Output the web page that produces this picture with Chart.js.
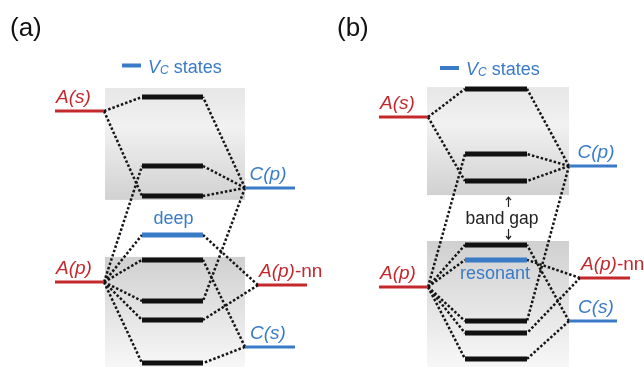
<!DOCTYPE html>
<html>
<head>
<meta charset="utf-8">
<script src="https://cdn.jsdelivr.net/npm/chart.js@4.4.1/dist/chart.umd.min.js"></script>
<style>
  html, body { margin: 0; padding: 0; background: #fff; overflow: hidden; }
  #wrap { position: relative; width: 644px; height: 367px; }
  canvas { position: absolute; top: 0; }
  #chartA { left: 0; }
  #chartB { left: 322px; }
</style>
</head>
<body>
<div id="wrap">
  <canvas id="chartB" width="322" height="367"></canvas>
  <canvas id="chartA" width="340" height="367"></canvas>
</div>
<script>
// atomic levels: A on the left, C on the right, A(p) of the nearest neighbour far right
const atomLabels = ["A(s)", "A(p)", "C(p)", "C(s)", "A(p)-nn"]
const atomSide = ["left", "left", "right", "right", "nn"]

// energies in arbitrary units (0 = bottom of the drawing)
const atomEnergyA = [8.53, 2.83, 5.97, 0.67, 2.73]
const atomEnergyB = [8.33, 2.67, 6.70, 1.53, 2.97]

// compound states, top to bottom; "vc" is the vacancy-derived level
const stateEnergyA = [9.0, 6.7, 5.7, 4.4, 3.57, 2.2, 1.57, 0.13]
const stateKindA = ["band", "band", "band", "vc", "band", "band", "band", "band"]
const stateEnergyB = [9.27, 7.1, 6.2, 4.07, 3.57, 1.53, 1.13, 0.27]
const stateKindB = ["band", "band", "band", "band", "vc", "band", "band", "band"]

// [atomic level, state] pairs joined by dotted lines
const linksA = [[0, 0], [0, 2], [2, 0], [2, 1], [2, 2], [2, 5], [1, 1], [1, 3], [1, 4], [1, 5], [1, 6], [1, 7], [4, 3], [4, 6], [3, 4], [3, 7]]
const linksB = [[0, 0], [0, 2], [2, 0], [2, 1], [2, 2], [2, 5], [1, 1], [1, 3], [1, 4], [1, 5], [1, 6], [1, 7], [4, 4], [4, 6], [3, 3], [3, 7]]

// shaded bands [bottom, top]: conduction band, valence band
const bandsA = [[5.57, 9.3], [0, 3.67]]
const bandsB = [[5.73, 9.33], [0, 4.2]]

const vcLabelA = "deep"
const vcLabelB = "resonant"

const red = "#c3282d"
const blue = "#3a7bc8"
const ink = "#111111"
const FONT = '"Liberation Sans", Arial, Helvetica, sans-serif'
const PX_PER_UNIT = 30

// horizontal layout of the columns, in canvas pixels
const layoutA = { left: [55, 104], mid: [142, 203], right: [245, 295], nn: [258, 307], box: [105, 245], title: 10, legend: [122, 72.5], cShift: -2 }
const layoutB = { left: [57, 106], mid: [143, 205], right: [247, 295], nn: [258, 308], box: [105, 247], title: 15, legend: [118, 75], cShift: 3 }

function atomColor(label) {
	return label.startsWith("C") ? blue : red
}

const bandPlugin = {
	id: "bandShading",
	beforeDatasetsDraw(chart, args, opts) {
		const { ctx, scales: { x, y } } = chart
		const x0 = x.getPixelForValue(opts.box[0])
		const x1 = x.getPixelForValue(opts.box[1])
		opts.bands.forEach((b, i) => {
			const top = y.getPixelForValue(b[1])
			const bottom = y.getPixelForValue(b[0])
			const g = ctx.createLinearGradient(0, top, 0, bottom)
			if (i === 0) {
				g.addColorStop(0, "#e7e7e7")
				g.addColorStop(0.35, "#f1f1f1")
				g.addColorStop(1, "#d1d1d1")
			} else {
				g.addColorStop(0, "#d0d0d0")
				g.addColorStop(1, "#f7f7f7")
			}
			ctx.save()
			ctx.fillStyle = g
			ctx.fillRect(x0, top, x1 - x0, bottom - top)
			ctx.restore()
		})
	},
}

const textPlugin = {
	id: "diagramText",
	afterDatasetsDraw(chart, args, opts) {
		const { ctx, scales: { x, y } } = chart
		const lay = opts.layout
		ctx.save()
		ctx.textBaseline = "alphabetic"

		// panel tag
		ctx.fillStyle = "#111"
		ctx.font = "26px " + FONT
		ctx.textAlign = "left"
		ctx.fillText(opts.title, lay.title, 36)

		// legend: blue dash + Vc states
		const [lx, ly] = lay.legend
		ctx.fillStyle = blue
		ctx.fillRect(lx, ly - 9, 19, 4)
		let tx = lx + 26
		ctx.font = "italic 18px " + FONT
		ctx.fillText("V", tx, ly)
		tx += ctx.measureText("V").width
		ctx.font = "italic 12px " + FONT
		ctx.fillText("C", tx, ly + 1)
		tx += ctx.measureText("C").width
		ctx.font = "18px " + FONT
		ctx.fillText(" states", tx, ly)

		// atomic level labels
		atomLabels.forEach((label, i) => {
			const py = y.getPixelForValue(opts.atomE[i]) - 8
			const side = atomSide[i]
			ctx.fillStyle = atomColor(label)
			ctx.font = "italic 19px " + FONT
			if (side === "left") {
				ctx.textAlign = "left"
				ctx.fillText(label, x.getPixelForValue(lay.left[0]) + 1, py)
			} else if (side === "right") {
				ctx.textAlign = "center"
				ctx.fillText(label, x.getPixelForValue((lay.right[0] + lay.right[1]) / 2) + lay.cShift, py)
			} else {
				const [main, tail] = label.split("-")
				ctx.textAlign = "left"
				const sx = x.getPixelForValue(lay.nn[0]) + 1
				ctx.fillText(main, sx, py)
				const w = ctx.measureText(main).width
				ctx.font = "19px " + FONT
				ctx.fillText("-" + tail, sx + w, py)
			}
		})

		// vacancy level label
		const vcIdx = opts.stateKind.indexOf("vc")
		const vcPix = y.getPixelForValue(opts.stateE[vcIdx])
		const midX = x.getPixelForValue((lay.mid[0] + lay.mid[1]) / 2)
		ctx.fillStyle = blue
		ctx.textAlign = "center"
		ctx.font = "18px " + FONT
		if (opts.vcBelow) {
			ctx.fillText(opts.vcLabel, midX - 1, vcPix + 19)
		} else {
			ctx.fillText(opts.vcLabel, midX + 1, vcPix - 11)
		}

		// band gap marker between the shaded bands
		if (opts.showGap) {
			const gTop = y.getPixelForValue(opts.bands[0][0])
			const gBot = y.getPixelForValue(opts.bands[1][1])
			const gMid = (gTop + gBot) / 2
			ctx.fillStyle = "#222"
			ctx.font = "17.5px " + FONT
			ctx.fillText("band gap", midX + 6, gMid + 6)
			const ax = midX + 12.5
			ctx.strokeStyle = "#222"
			ctx.lineWidth = 1.2
			ctx.beginPath()
			ctx.moveTo(ax, gTop + 2)
			ctx.lineTo(ax, gTop + 12)
			ctx.moveTo(ax - 2.5, gTop + 5)
			ctx.lineTo(ax, gTop + 2)
			ctx.lineTo(ax + 2.5, gTop + 5)
			ctx.moveTo(ax, gBot - 12)
			ctx.lineTo(ax, gBot - 2)
			ctx.moveTo(ax - 2.5, gBot - 5)
			ctx.lineTo(ax, gBot - 2)
			ctx.lineTo(ax + 2.5, gBot - 5)
			ctx.stroke()
		}
		ctx.restore()
	},
}

function buildChart(id, p) {
	const canvas = document.getElementById(id)
	const lay = p.layout
	const datasets = []

	// compound states
	p.stateE.forEach((e, i) => {
		datasets.push({
			data: [{ x: lay.mid[0], y: e }, { x: lay.mid[1], y: e }],
			borderColor: p.stateKind[i] === "vc" ? blue : ink,
			borderWidth: 5,
			order: 0,
		})
	})

	// atomic levels
	p.atomE.forEach((e, i) => {
		const span = lay[atomSide[i]]
		datasets.push({
			data: [{ x: span[0], y: e }, { x: span[1], y: e }],
			borderColor: atomColor(atomLabels[i]),
			borderWidth: 3,
			order: 0,
		})
	})

	// dotted correlation lines
	p.links.forEach(([a, s]) => {
		const side = atomSide[a]
		const ax = side === "left" ? lay.left[1] : lay[side][0]
		const sx = side === "left" ? lay.mid[0] : lay.mid[1]
		datasets.push({
			data: [{ x: ax, y: p.atomE[a] }, { x: sx, y: p.stateE[s] }],
			borderColor: "#151515",
			borderWidth: 2.5,
			borderDash: [2.5, 2],
			order: 1,
		})
	})

	return new Chart(canvas.getContext("2d"), {
		type: "scatter",
		data: { datasets },
		options: {
			responsive: false,
			animation: false,
			devicePixelRatio: 1,
			layout: { padding: 0 },
			showLine: true,
			elements: {
				point: { radius: 0, hoverRadius: 0 },
				line: { tension: 0, borderCapStyle: "butt", fill: false },
			},
			scales: {
				x: { type: "linear", min: 0, max: canvas.width, display: false },
				y: { type: "linear", min: 0, max: canvas.height / PX_PER_UNIT, display: false },
			},
			plugins: {
				legend: { display: false },
				tooltip: { enabled: false },
				bandShading: { bands: p.bands, box: lay.box },
				diagramText: {
					layout: lay,
					title: p.title,
					atomE: p.atomE,
					stateE: p.stateE,
					stateKind: p.stateKind,
					bands: p.bands,
					vcLabel: p.vcLabel,
					vcBelow: p.vcBelow,
					showGap: p.showGap,
				},
			},
		},
		plugins: [bandPlugin, textPlugin],
	})
}

buildChart("chartA", {
	layout: layoutA, title: "(a)",
	atomE: atomEnergyA, stateE: stateEnergyA, stateKind: stateKindA,
	links: linksA, bands: bandsA, vcLabel: vcLabelA, vcBelow: false, showGap: false,
})

buildChart("chartB", {
	layout: layoutB, title: "(b)",
	atomE: atomEnergyB, stateE: stateEnergyB, stateKind: stateKindB,
	links: linksB, bands: bandsB, vcLabel: vcLabelB, vcBelow: true, showGap: true,
})
</script>
</body>
</html>
